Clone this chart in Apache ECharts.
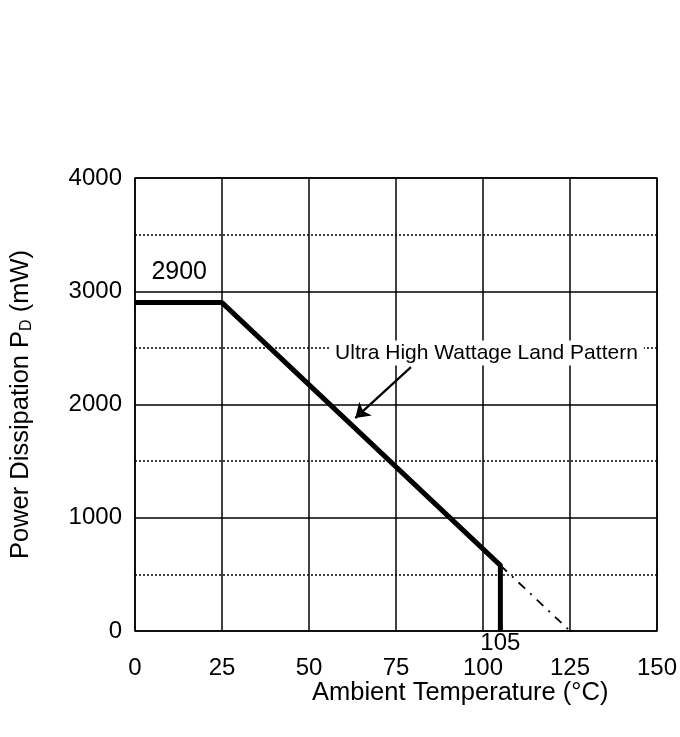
<!DOCTYPE html>
<html>
<head>
<meta charset="utf-8">
<script src="https://cdn.jsdelivr.net/npm/echarts@6/dist/echarts.min.js"></script>
<style>html,body{margin:0;padding:0;background:#fff}#c{width:680px;height:737px}</style>
</head>
<body>
<div id="c"></div>
<script>
// Derating curve (Ambient temperature °C vs power dissipation mW)
const tempC = [0, 25, 105, 105];
const powerMW = [2900, 2900, 580, 0];
// Extrapolated (dash-dot) segment
const extTemp = [105, 125];
const extPower = [580, 0];
// Axis ticks
const xTicks = [0, 25, 50, 75, 100, 125, 150];
const yTicks = [0, 1000, 2000, 3000, 4000];
// Annotations
const annoText = ['2900', '105', 'Ultra High Wattage Land Pattern'];
const annoX = [12.7, 105, 101];
const annoY = [3170, 0, 2455];
const arrowFrom = [79.3, 2330];
const arrowTo = [63.3, 1880];

const FONT = 'Liberation Sans, Arial, sans-serif';
const chart = echarts.init(document.getElementById('c'), null, {renderer: 'canvas'});

const mainData = tempC.map((t, i) => [t, powerMW[i]]);
const extData = extTemp.map((t, i) => [t, extPower[i]]);
const annoSize = [25, 24, 21];

const option = {
  animation: false,
  backgroundColor: '#fff',
  grid: {left: 133.5, right: 21.5, top: 178, bottom: 106, show: true, borderColor: '#000', borderWidth: 1.5, backgroundColor: 'transparent'},
  xAxis: {
    type: 'value', min: xTicks[0], max: xTicks[xTicks.length - 1], interval: 25,
    axisLine: {show: false}, axisTick: {show: false},
    axisLabel: {color: '#000', fontSize: 24, fontFamily: FONT, margin: 25, formatter: v => String(v)},
    splitLine: {show: true, lineStyle: {color: '#000', width: 1.5}}
  },
  yAxis: {
    type: 'value', min: yTicks[0], max: yTicks[yTicks.length - 1], interval: 1000,
    axisLine: {show: false}, axisTick: {show: false},
    axisLabel: {color: '#000', fontSize: 24, fontFamily: FONT, margin: 13, formatter: v => String(v)},
    splitLine: {show: true, lineStyle: {color: '#000', width: 1.5}},
    minorTick: {show: false, splitNumber: 2},
    minorSplitLine: {show: true, lineStyle: {color: '#000', width: 1.5, type: [2, 2]}},
    name: '{a|Power Dissipation P}{s|D}{a| (mW)}',
    nameLocation: 'middle', nameGap: 100,
    nameTextStyle: {
      rich: {
        a: {fontSize: 25.5, fontFamily: FONT, color: '#000'},
        s: {fontSize: 16, fontFamily: FONT, color: '#000', padding: [12, 0, 0, 0]}
      }
    }
  },
  graphic: [{
    type: 'text', left: 312, top: 680,
    style: {text: 'Ambient Temperature (°C)', font: '25.5px ' + FONT, fill: '#000'}
  }],
  series: [
    {
      type: 'line', data: mainData, symbol: 'none', z: 5,
      lineStyle: {color: '#000', width: 5}
    },
    {
      type: 'line', data: extData, symbol: 'none', z: 4,
      lineStyle: {color: '#000', width: 1.8, type: [9, 7, 2, 7]}
    },
    {
      type: 'lines', coordinateSystem: 'cartesian2d', z: 6,
      symbol: ['none', 'arrow'], symbolSize: 14,
      lineStyle: {color: '#000', width: 2.2, opacity: 1},
      data: [{coords: [arrowFrom, arrowTo]}]
    },
    {
      type: 'scatter', symbolSize: 0, z: 7, clip: false, silent: true,
      itemStyle: {color: '#000', opacity: 1},
      data: annoText.map((t, i) => ({
        value: [annoX[i], annoY[i]],
        label: Object.assign(
          {show: true, color: '#000', opacity: 1, textBorderWidth: 0, fontSize: annoSize[i], fontFamily: FONT, formatter: t},
          i === 1 ? {position: 'bottom', distance: 0} : {position: 'inside'},
          i === 2 ? {backgroundColor: '#fff', padding: [2, 6]} : {}
        )
      }))
    }
  ]
};
chart.setOption(option);
</script>
</body>
</html>
